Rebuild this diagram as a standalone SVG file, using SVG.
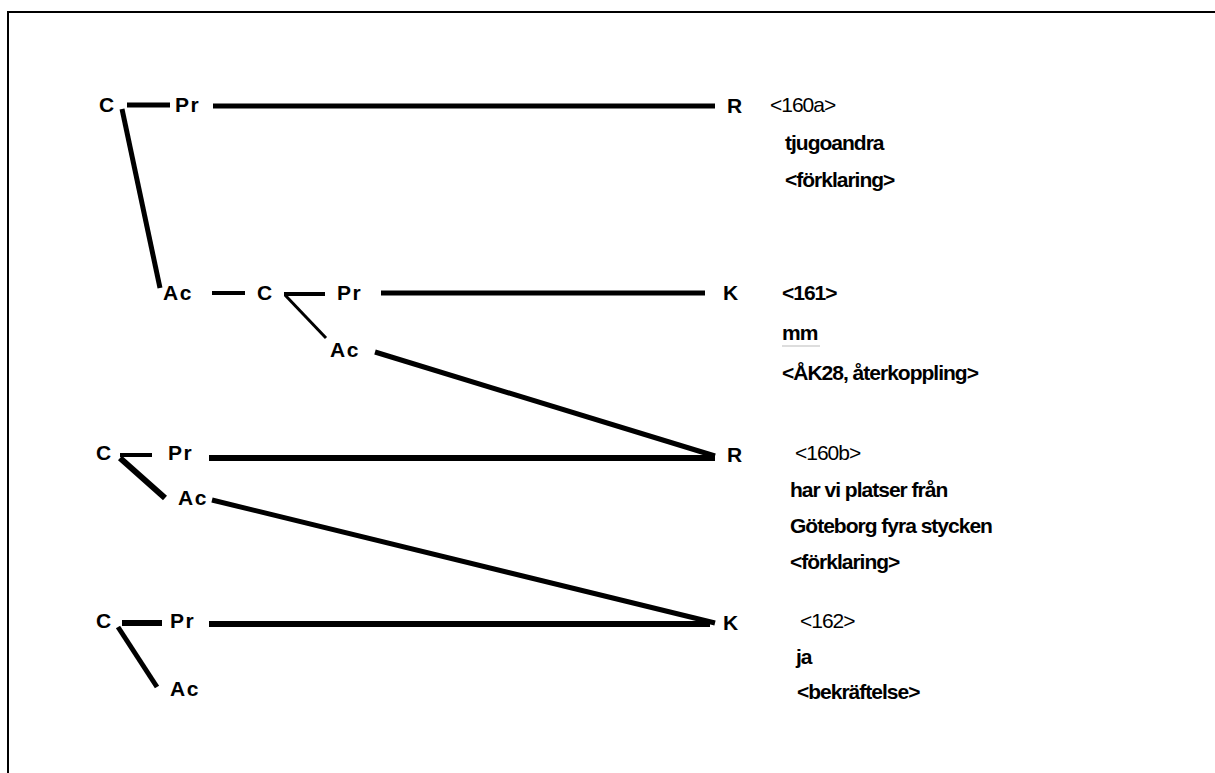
<svg xmlns="http://www.w3.org/2000/svg" width="1215" height="773" viewBox="0 0 1215 773">
<style>
.t{font-family:"Liberation Sans",Arial,sans-serif;font-weight:bold;fill:#000}
.s{font-size:21px;letter-spacing:1.5px}
.m{font-size:21px}
.r{font-size:21px;letter-spacing:-1px}
.n{font-weight:normal}
.c line{stroke:#000;stroke-linecap:butt}
</style>
<rect width="1215" height="773" fill="#fff"/>
<path d="M8,773 V12 H1215" fill="none" stroke="#000" stroke-width="2"/>
<g class="c" id="connectors">
<line x1="127" y1="105" x2="170" y2="105" stroke-width="5"/>
<line x1="213" y1="106" x2="715" y2="106" stroke-width="5"/>
<line x1="122" y1="109" x2="160" y2="288" stroke-width="5"/>
<line x1="212" y1="293" x2="245" y2="293" stroke-width="4"/>
<line x1="284" y1="294" x2="325" y2="294" stroke-width="4"/>
<line x1="285" y1="295" x2="326" y2="338" stroke-width="3"/>
<line x1="381" y1="293" x2="705" y2="293" stroke-width="5"/>
<line x1="375" y1="352" x2="715" y2="456" stroke-width="5"/>
<line x1="120" y1="455" x2="152" y2="455" stroke-width="4"/>
<line x1="209" y1="458" x2="715" y2="458" stroke-width="6"/>
<line x1="120" y1="458" x2="165" y2="498" stroke-width="6"/>
<line x1="212" y1="500" x2="715" y2="623" stroke-width="5"/>
<line x1="122" y1="623" x2="162" y2="623" stroke-width="6"/>
<line x1="209" y1="624" x2="710" y2="624" stroke-width="6"/>
<line x1="118" y1="627" x2="157" y2="687" stroke-width="5"/>
</g>
<g id="r1">
<text class="t s" x="99" y="112">C</text>
<text class="t s" x="175" y="112">Pr</text>
<text class="t m" x="727" y="113">R</text>
<text class="t r n" x="770" y="112">&lt;160a&gt;</text>
<text class="t r" x="785" y="150">tjugoandra</text>
<text class="t r" x="785" y="187">&lt;förklaring&gt;</text>
<text class="t s" x="163" y="300">Ac</text>
</g>
<g id="r2">
<text class="t s" x="257" y="300">C</text>
<text class="t s" x="337" y="300">Pr</text>
<text class="t m" x="723" y="300">K</text>
<text class="t r" x="782" y="300">&lt;161&gt;</text>
<text class="t r" x="782" y="340">mm</text>
<line x1="782" y1="346" x2="820" y2="346" stroke="#bbb" stroke-width="1"/>
<text class="t r" x="782" y="380">&lt;ÅK28, återkoppling&gt;</text>
<text class="t s" x="330" y="357">Ac</text>
</g>
<g id="r3">
<text class="t s" x="96" y="460">C</text>
<text class="t s" x="168" y="460">Pr</text>
<text class="t m" x="727" y="462">R</text>
<text class="t r n" x="795" y="460">&lt;160b&gt;</text>
<text class="t r" x="790" y="497">har vi platser från</text>
<text class="t r" x="790" y="533">Göteborg fyra stycken</text>
<text class="t r" x="790" y="569">&lt;förklaring&gt;</text>
<text class="t s" x="178" y="505">Ac</text>
</g>
<g id="r4">
<text class="t s" x="96" y="628">C</text>
<text class="t s" x="170" y="628">Pr</text>
<text class="t m" x="723" y="630">K</text>
<text class="t r n" x="800" y="628">&lt;162&gt;</text>
<text class="t r" x="796" y="664">ja</text>
<text class="t r" x="797" y="699">&lt;bekräftelse&gt;</text>
<text class="t s" x="170" y="696">Ac</text>
</g>
</svg>
